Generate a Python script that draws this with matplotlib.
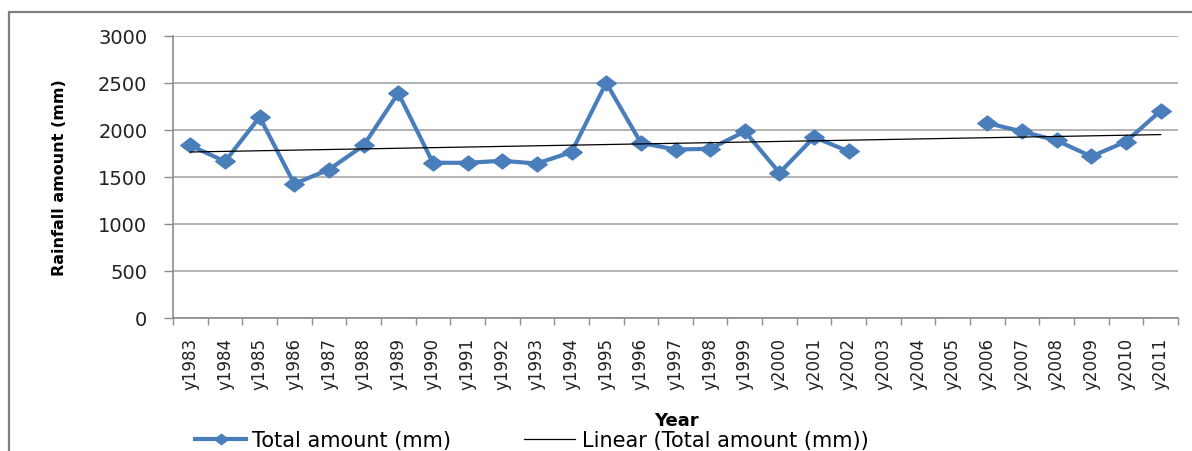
import numpy as np
import matplotlib
matplotlib.use('Agg')
import matplotlib.pyplot as plt
from matplotlib.path import Path
from matplotlib.patches import Rectangle

# annual rainfall totals, no record for 2003-2005
years = [f"y{y}" for y in range(1983, 2012)]
rainfall = [1830, 1660, 2132, 1422, 1574, 1830, 2387, 1646, 1646, 1667,
            1638, 1760, 2497, 1858, 1787, 1795, 1979, 1539, 1919, 1766,
            np.nan, np.nan, np.nan, 2068, 1979, 1883, 1713, 1872, 2199]

blue = '#4A7EBB'
grey = '#8C8C8C'

x = np.arange(len(years))
y = np.array(rainfall, dtype=float)

# linear trend through the years that have data
ok = ~np.isnan(y)
slope, icept = np.polyfit(x[ok], y[ok], 1)
trend = slope * x + icept

# slightly wide diamond marker
diamond = Path([(-1.3, 0), (0, 1), (1.3, 0), (0, -1), (-1.3, 0)],
               [Path.MOVETO, Path.LINETO, Path.LINETO, Path.LINETO, Path.CLOSEPOLY])

fig = plt.figure(figsize=(11.92, 4.52), dpi=100)
ax = fig.add_axes([173/1192, 1 - 318.5/452, 1005/1192, 282/452])

ax.plot(x, y, color=blue, lw=3, marker=diamond, ms=14, mec=blue, mfc=blue,
        label='Total amount (mm)', zorder=3)
ax.plot(x, trend, color='black', lw=0.9, label='Linear (Total amount (mm))', zorder=4)

ax.set_xlim(-0.5, len(years) - 0.5)
ax.set_ylim(0, 3000)
ax.set_yticks(np.arange(0, 3001, 500))
ax.yaxis.grid(True, color='#A6A6A6', lw=1.2)
ax.set_axisbelow(True)

# category labels at centres, tick marks on the boundaries
ax.set_xticks(x)
ax.set_xticklabels(years, rotation=90, fontsize=12, color='#222222')
ax.set_xticks(np.arange(-0.5, len(years)), minor=True)
ax.tick_params(axis='x', which='major', length=0, pad=14)
ax.tick_params(axis='x', which='minor', length=5, width=1, color=grey)
ax.tick_params(axis='y', length=6.5, width=1, color=grey, pad=12, labelsize=14,
               labelcolor='#222222')

for s in ['top', 'right']:
    ax.spines[s].set_visible(False)
for s in ['left', 'bottom']:
    ax.spines[s].set_color(grey)
    ax.spines[s].set_linewidth(1.2)

fig.text(60/1192, 1 - 178/452, 'Rainfall amount (mm)', rotation=90, ha='center',
         va='center', fontsize=11.5, fontweight='bold')
fig.text(676/1192, 1 - 421/452, 'Year', ha='center', va='center',
         fontsize=13, fontweight='bold')

ax.legend(loc='center left', bbox_to_anchor=(195/1192, 1 - 441/452),
          bbox_transform=fig.transFigure, ncol=2, frameon=False, fontsize=15,
          handlelength=2.45, handletextpad=0.3, columnspacing=3.5,
          borderpad=0, borderaxespad=0, markerscale=0.7)

# outer chart frame
fig.add_artist(Rectangle((9/1192, -0.2), 1.2, 1.2 - 13/452, transform=fig.transFigure,
                         fill=False, edgecolor='#7F7F7F', lw=1.6))

fig.savefig('out.png', dpi=100)
